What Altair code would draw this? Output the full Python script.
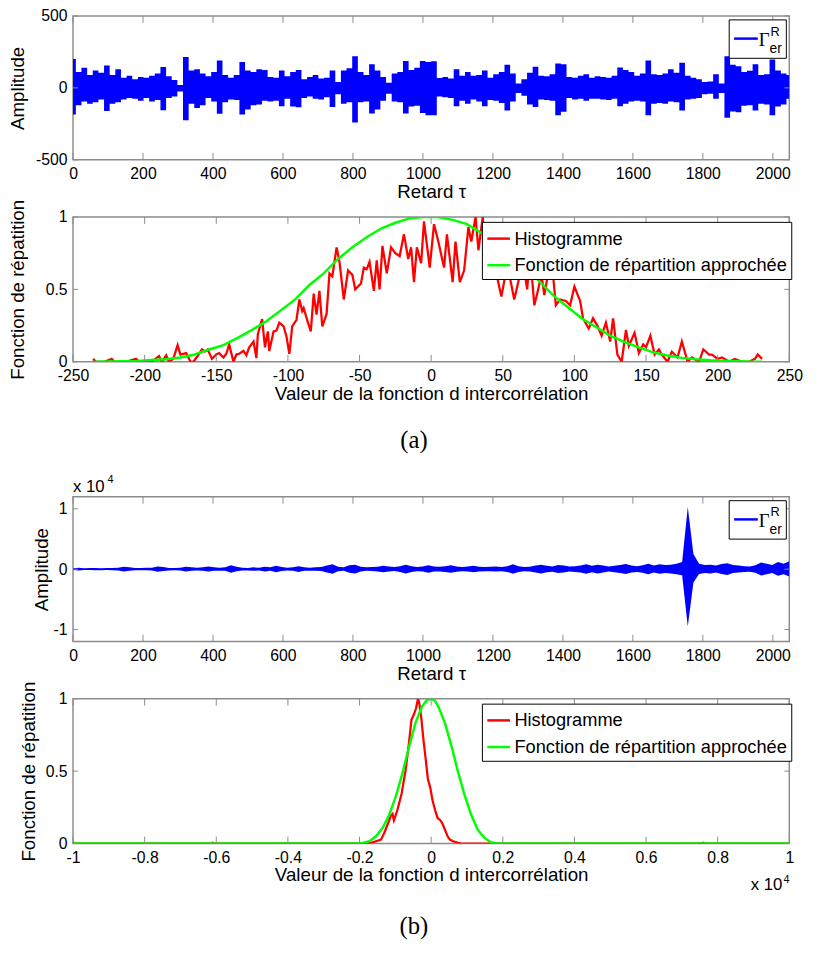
import altair as alt
import pandas as pd

FONT = "Liberation Sans"
SERIF = "Liberation Serif"
FRAME = "#8c8c8c"
BLUE, RED, GREEN = "#0000ff", "#ff0000", "#00ff00"
W = 727
H1, H2, H3, H4 = 146, 147, 147, 147
SPAN = 2047

# ---------------- data ----------------
# (a) top: envelope of the intercorrelation, per 16-sample bin (upper / lower peaks)
p1_hi = [200, 110, 140, 90, 120, 105, 155, 90, 130, 70,
         85, 60, 75, 70, 85, 100, 145, 80, 55, 20,
         215, 120, 130, 100, 80, 110, 190, 90, 70, 90,
         180, 120, 110, 130, 125, 75, 70, 120, 80, 110,
         125, 60, 75, 90, 65, 70, 120, 40, 120, 137,
         220, 110, 90, 165, 120, 75, 35, 100, 110, 187,
         125, 140, 187, 180, 185, 68, 75, 65, 130, 85,
         110, 85, 90, 120, 70, 95, 110, 160, 100, 30,
         60, 105, 146, 85, 80, 95, 169, 164, 75, 70,
         85, 95, 70, 80, 75, 70, 85, 142, 125, 110,
         85, 100, 191, 95, 90, 100, 130, 105, 175, 85,
         70, 60, 40, 45, 95, 30, 220, 160, 150, 110,
         119, 164, 90, 95, 198, 120, 100, 90]
p1_lo = [-185, -120, -95, -110, -100, -80, -160, -110, -100, -80,
         -70, -75, -90, -70, -95, -85, -155, -70, -60, -25,
         -225, -110, -140, -120, -70, -95, -180, -100, -80, -85,
         -185, -150, -120, -115, -90, -95, -90, -128, -75, -130,
         -135, -70, -60, -75, -80, -65, -133, -45, -110, -100,
         -240, -100, -95, -178, -150, -90, -40, -95, -100, -178,
         -130, -125, -175, -190, -191, -60, -65, -70, -128, -90,
         -110, -80, -95, -128, -85, -90, -105, -157, -95, -35,
         -55, -115, -133, -80, -85, -90, -191, -166, -70, -80,
         -75, -90, -75, -75, -80, -85, -75, -128, -110, -95,
         -90, -95, -191, -110, -105, -110, -95, -100, -157, -80,
         -75, -70, -45, -40, -75, -35, -207, -165, -170, -125,
         -120, -157, -110, -115, -191, -130, -115, -75]

# (b) top: same, real units (axis shown x 10^4)
p3_hi = [150, 250, 150, 180, 200, 150, 180, 200, 250, 400,
         300, 200, 180, 220, 250, 450, 350, 200, 180, 250,
         400, 300, 250, 300, 450, 300, 250, 300, 650, 400,
         250, 200, 300, 250, 400, 300, 550, 350, 250, 300,
         500, 300, 250, 300, 350, 600, 800, 400, 300, 650,
         750, 400, 300, 350, 400, 550, 450, 350, 500, 750,
         500, 350, 450, 650, 450, 400, 500, 650, 450, 350,
         450, 550, 400, 350, 400, 450, 350, 500, 800, 500,
         350, 400, 600, 750, 550, 450, 700, 600, 450, 500,
         600, 800, 550, 750, 600, 450, 550, 700, 850, 600,
         500, 650, 900, 600, 800, 700, 750, 900, 1200, 10300,
         2500, 900, 700, 750, 600, 850, 1000, 700, 600, 500,
         450, 650, 1100, 900, 700, 1200, 900, 1300]
p3_lo = [-150, -220, -130, -150, -180, -160, -150, -200, -220, -380,
         -280, -180, -200, -200, -230, -420, -300, -220, -170, -220,
         -380, -250, -230, -280, -400, -280, -250, -280, -600, -350,
         -230, -220, -280, -220, -380, -280, -520, -300, -230, -280,
         -450, -280, -250, -280, -300, -550, -750, -350, -280, -600,
         -700, -380, -280, -300, -380, -500, -400, -320, -450, -700,
         -450, -330, -400, -600, -400, -380, -450, -600, -420, -330,
         -400, -520, -380, -330, -350, -400, -330, -450, -750, -450,
         -330, -380, -550, -700, -500, -420, -650, -550, -400, -450,
         -550, -750, -500, -700, -550, -400, -500, -650, -800, -550,
         -480, -600, -850, -550, -750, -650, -700, -850, -1000, -9500,
         -2200, -800, -650, -700, -550, -800, -950, -650, -550, -450,
         -420, -600, -1050, -850, -650, -1100, -850, -1200]

# (a) bottom: histogram and fitted distribution
hist_a_x = [-236, -234, -228, -223, -221, -213, -206, -204, -195, -190, -188, -185, -183, -180,
            -177, -175, -171, -168, -166, -163, -160, -158, -156, -153, -150, -148, -145, -143,
            -141, -138, -136, -134, -131, -129, -127, -124, -122, -121, -118, -116, -114, -113,
            -110, -108, -106, -103, -101, -99, -97, -94, -92, -90, -89, -86, -84, -82, -80, -78,
            -76, -73, -71, -69, -66, -64, -61, -58, -55, -53, -49, -47, -45, -43, -40, -38, -36,
            -34, -31, -28, -25, -22, -19, -16, -14, -12, -10, -7, -5, -1, 2, 5, 9, 11, 15, 17,
            20, 23, 26, 28, 31, 33, 36, 39, 42, 45, 49, 52, 55, 58, 61, 64, 67, 69, 72, 74, 77,
            79, 82, 84, 87, 90, 94, 97, 100, 104, 106, 110, 113, 116, 119, 122, 125, 127, 130,
            133, 136, 138, 142, 145, 148, 150, 153, 156, 159, 161, 165, 168, 172, 175, 179, 182,
            187, 190, 194, 196, 200, 203, 208, 212, 217, 222, 226, 228, 231]
hist_a_y = [0.02, 0.0, 0.0, 0.02, 0.0, 0.0, 0.02, 0.0, 0.0, 0.04, 0.0, 0.045, 0.0, 0.02,
            0.115, 0.05, 0.06, 0.0, 0.0, 0.04, 0.085, 0.07, 0.085, 0.02, 0.05, 0.06, 0.03, 0.055,
            0.12, 0.0, 0.05, 0.055, 0.075, 0.045, 0.1, 0.14, 0.025, 0.19, 0.295, 0.1, 0.21, 0.075,
            0.21, 0.215, 0.27, 0.245, 0.175, 0.055, 0.245, 0.29, 0.43, 0.35, 0.37, 0.27, 0.21, 0.47,
            0.325, 0.49, 0.245, 0.33, 0.61, 0.59, 0.79, 0.69, 0.43, 0.63, 0.6, 0.5, 0.54, 0.65,
            0.64, 0.69, 0.49, 0.7, 0.5, 0.8, 0.61, 0.79, 0.75, 0.73, 0.88, 0.71, 0.79, 0.55, 0.79,
            0.68, 0.97, 0.65, 0.95, 0.83, 0.65, 0.88, 0.55, 0.83, 0.55, 0.63, 0.93, 0.83, 1.0,
            0.77, 1.0, 0.62, 0.8, 0.63, 0.45, 0.61, 0.58, 0.43, 0.56, 0.7, 0.5, 0.75, 0.39, 0.47,
            0.6, 0.46, 0.63, 0.72, 0.39, 0.43, 0.42, 0.39, 0.52, 0.42, 0.3, 0.23, 0.3, 0.25, 0.18,
            0.27, 0.14, 0.3, 0.05, 0.0, 0.22, 0.11, 0.2, 0.06, 0.12, 0.1, 0.18, 0.05, 0.085, 0.05,
            0.0, 0.07, 0.03, 0.14, 0.0, 0.03, 0.0, 0.085, 0.05, 0.05, 0.02, 0.03, 0.0, 0.02, 0.0,
            0.0, 0.02, 0.05, 0.02]
fit_a_x = [-235, -225, -215, -205, -195, -185, -175, -165, -155, -145, -135, -125, -115, -105,
           -95, -85, -75, -65, -55, -45, -35, -25, -15, -5, 5, 15, 25, 35, 45, 55, 65, 75, 85,
           95, 105, 115, 125, 135, 145, 155, 165, 175, 185, 195, 205, 215, 225, 231]
fit_a_y = [0.0, 0.002, 0.004, 0.006, 0.012, 0.018, 0.03, 0.05, 0.085, 0.115, 0.165, 0.22, 0.28,
           0.355, 0.43, 0.53, 0.61, 0.71, 0.79, 0.86, 0.92, 0.96, 0.99, 1.0, 1.0, 0.98, 0.95,
           0.89, 0.82, 0.74, 0.66, 0.56, 0.46, 0.38, 0.3, 0.24, 0.18, 0.135, 0.1, 0.065, 0.043,
           0.027, 0.017, 0.01, 0.006, 0.003, 0.001, 0.0]

# (b) bottom
hist_b_x = [-10000, -9900, -6150, -6100, -6050, -1950, -1680, -1540, -1400, -1310, -1220, -1130,
            -1080, -1040, -945, -826, -716, -624, -550, -486, -422, -367, -330, -275, -211, -147,
            -92, -28, 36, 110, 183, 248, 312, 385, 459, 523, 615, 752, 844, 7550, 7600, 7650,
            9900, 9950]
hist_b_y = [0.006, 0.0, 0.0, 0.006, 0.0, 0.0, 0.005, 0.016, 0.027, 0.073, 0.13, 0.19,
            0.204, 0.16, 0.23, 0.344, 0.503, 0.685, 0.855, 0.889, 0.934, 1.0, 0.968, 0.866, 0.707,
            0.571, 0.446, 0.39, 0.3, 0.23, 0.175, 0.163, 0.14, 0.095, 0.05, 0.027, 0.016, 0.005,
            0.0, 0.0, 0.006, 0.0, 0.0, 0.006]
fit_b_x = [-10000, -1950, -1725, -1541, -1358, -1174, -991, -807, -624, -440, -257, -120, 0, 110,
           202, 385, 569, 752, 936, 1119, 1303, 1486, 1670, 1853, 10000]
fit_b_y = [0.0, 0.0, 0.016, 0.05, 0.107, 0.197, 0.322, 0.48, 0.662, 0.832, 0.946, 0.99, 1.0,
           0.985, 0.946, 0.832, 0.673, 0.492, 0.333, 0.197, 0.095, 0.039, 0.009, 0.0, 0.0]

SERIES = ["Histogramme", "Fonction de répartition approchée"]
LEGEND_PARTS = ["Γ", "R", "er"]
CAPTIONS = ["(a)", "(b)"]
MULT = ["x 10", "4"]

tau_ticks = list(range(0, 2001, 200))
amp_a_ticks = [-500, 0, 500]
amp_b_ticks = [-10000, 0, 10000]
val_a_ticks = list(range(-250, 251, 50))
val_b_ticks = list(range(-10000, 10001, 2000))
prob_ticks = [0, 0.5, 1]


# ---------------- helpers ----------------
def noise_df(hi, lo):
    n = len(hi)
    return pd.DataFrame({"tau": [i * SPAN / (n - 1) for i in range(n)], "hi": hi, "lo": lo})


def x_axis(values, title, expr="toString(datum.value)"):
    return alt.Axis(values=values, title=title, labelExpr=expr, ticks=False, tickSize=0,
                    domain=False, grid=False, labelFont=FONT, labelFontSize=16,
                    labelColor="black", labelPadding=6, labelFlush=False, labelOverlap=False,
                    titleFont=FONT, titleFontSize=19, titleFontWeight="normal",
                    titleColor="black", titlePadding=1)


def y_axis(values, title, title_x, expr="toString(datum.value)"):
    return alt.Axis(values=values, title=title, labelExpr=expr, ticks=False, tickSize=0,
                    domain=False, grid=False, labelFont=FONT, labelFontSize=16,
                    labelColor="black", labelPadding=6, labelFlush=False, labelOverlap=False,
                    titleFont=FONT, titleFontSize=19, titleFontWeight="normal",
                    titleColor="black", titleX=title_x)


def inner_ticks(xf, yf, xenc, yenc, xticks, yticks, h):
    xt = pd.DataFrame({xf: xticks})
    yt = pd.DataFrame({yf: yticks})
    bx = alt.Chart(xt).mark_rule(color=FRAME, strokeWidth=1)
    by = alt.Chart(yt).mark_rule(color=FRAME, strokeWidth=1)
    return [
        bx.encode(x=xenc, y=alt.value(0), y2=alt.value(7)),
        bx.encode(x=xenc, y=alt.value(h - 7), y2=alt.value(h)),
        by.encode(y=yenc, x=alt.value(0), x2=alt.value(5)),
        by.encode(y=yenc, x=alt.value(W - 5), x2=alt.value(W)),
    ]


def text_layer(s, x, y, size, font=FONT, align="left", baseline="alphabetic"):
    return alt.Chart(pd.DataFrame({"t": [s]})).mark_text(
        font=font, fontSize=size, align=align, baseline=baseline, color="black"
    ).encode(text="t:N", x=alt.value(x), y=alt.value(y))


def blue_legend():
    one = pd.DataFrame({"k": [0]})
    box = alt.Chart(one).mark_rect(fill="white", stroke="black", strokeWidth=1).encode(
        x=alt.value(666), x2=alt.value(724), y=alt.value(4), y2=alt.value(43))
    sym = alt.Chart(one).mark_rule(color=BLUE, strokeWidth=2.5).encode(
        x=alt.value(671), x2=alt.value(695), y=alt.value(23))
    return [box, sym,
            text_layer(LEGEND_PARTS[0], 696, 31, 19, font=SERIF),
            text_layer(LEGEND_PARTS[1], 708, 20, 13),
            text_layer(LEGEND_PARTS[2], 707, 38, 14)]


def color_enc():
    return alt.Color("series:N", scale=alt.Scale(domain=SERIES, range=[RED, GREEN]),
                     legend=alt.Legend(title=None, orient="none", legendX=415, legendY=5,
                                       direction="vertical", fillColor="white",
                                       strokeColor="black", padding=4, symbolType="stroke",
                                       symbolSize=529, symbolStrokeWidth=2.5, labelFont=FONT,
                                       labelFontSize=18.5, labelColor="black", labelOffset=3,
                                       rowPadding=4, labelLimit=400, cornerRadius=0))


def noise_band(df, xenc, yenc, interp):
    return alt.Chart(df).mark_area(color=BLUE, opacity=1, clip=True,
                                   interpolate=interp).encode(
        x=xenc, y=yenc, y2="lo:Q")


# ---------------- panel 1 ----------------
xs_tau = alt.Scale(domain=[0, SPAN], nice=False, zero=False)
x1 = alt.X("tau:Q", scale=xs_tau, axis=x_axis(tau_ticks, "Retard τ"))
y1 = alt.Y("hi:Q", scale=alt.Scale(domain=[-500, 500], nice=False),
           axis=y_axis(amp_a_ticks, "Amplitude", -46))
band1 = noise_band(noise_df(p1_hi, p1_lo), x1, y1, "step")
p1 = alt.layer(band1, *inner_ticks("tau", "hi", x1, y1, tau_ticks, amp_a_ticks, H1),
               *blue_legend()).properties(width=W, height=H1)

# ---------------- panel 2 ----------------
x2 = alt.X("val:Q", scale=alt.Scale(domain=[-250, 250], nice=False),
           axis=x_axis(val_a_ticks, "Valeur de la fonction d intercorrélation"))
y2 = alt.Y("freq:Q", scale=alt.Scale(domain=[0, 1], nice=False),
           axis=y_axis(prob_ticks, "Fonction de répatition", -46))
hist_a = pd.DataFrame({"val": hist_a_x, "freq": hist_a_y, "series": SERIES[0]})
fit_a = pd.DataFrame({"val": fit_a_x, "freq": fit_a_y, "series": SERIES[1]})
red2 = alt.Chart(hist_a).mark_line(strokeWidth=2.3, clip=True).encode(x=x2, y=y2, color=color_enc())
green2 = alt.Chart(fit_a).mark_line(strokeWidth=2.5, clip=True).encode(x=x2, y=y2, color=color_enc())
p2 = alt.layer(red2, green2, *inner_ticks("val", "freq", x2, y2, val_a_ticks, prob_ticks, H2)
               ).properties(width=W, height=H2)

# ---------------- spacer with caption (a) ----------------
spacer = text_layer(CAPTIONS[0], 346, 22, 25, font=SERIF, align="center", baseline="middle").properties(
    width=W, height=21, view=alt.ViewBackground(stroke="transparent"))

# ---------------- panel 3 ----------------
x3 = alt.X("tau:Q", scale=xs_tau, axis=x_axis(tau_ticks, "Retard τ"))
y3 = alt.Y("hi:Q", scale=alt.Scale(domain=[-12000, 12000], nice=False),
           axis=y_axis(amp_b_ticks, "Amplitude", -22, expr="toString(datum.value / 10000)"))
band3 = noise_band(noise_df(p3_hi, p3_lo), x3, y3, "linear")
p3 = alt.layer(band3, *inner_ticks("tau", "hi", x3, y3, tau_ticks, amp_b_ticks, H3),
               *blue_legend(),
               text_layer(MULT[0], 0, -5, 17),
               text_layer(MULT[1], 35, -14, 11)).properties(width=W, height=H3)

# ---------------- panel 4 ----------------
x4 = alt.X("val:Q", scale=alt.Scale(domain=[-10000, 10000], nice=False),
           axis=x_axis(val_b_ticks, "Valeur de la fonction d intercorrélation",
                       expr="toString(datum.value / 10000)"))
y4 = alt.Y("freq:Q", scale=alt.Scale(domain=[0, 1], nice=False),
           axis=y_axis(prob_ticks, "Fonction de répatition", -35))
hist_b = pd.DataFrame({"val": hist_b_x, "freq": hist_b_y, "series": SERIES[0]})
fit_b = pd.DataFrame({"val": fit_b_x, "freq": fit_b_y, "series": SERIES[1]})
red4 = alt.Chart(hist_b).mark_line(strokeWidth=2.3, clip=True).encode(x=x4, y=y4, color=color_enc())
green4 = alt.Chart(fit_b).mark_line(strokeWidth=2.5, clip=True).encode(x=x4, y=y4, color=color_enc())
p4 = alt.layer(red4, green4, *inner_ticks("val", "freq", x4, y4, val_b_ticks, prob_ticks, H4),
               text_layer(MULT[0], 720, H4 + 47, 17, align="right"),
               text_layer(MULT[1], 721, H4 + 40, 11),
               text_layer(CAPTIONS[1], 346, H4 + 84, 25, font=SERIF, align="center", baseline="middle")
               ).properties(width=W, height=H4)

chart = alt.vconcat(p1, p2, spacer, p3, p4, spacing=58, bounds="flush").resolve_scale(
    color="independent").properties(
    padding={"left": 0, "top": -8, "right": 5, "bottom": 5}).configure_view(
    stroke=FRAME, strokeWidth=1.5)

chart.save("out.html", embed_options={"renderer": "svg", "actions": False})
